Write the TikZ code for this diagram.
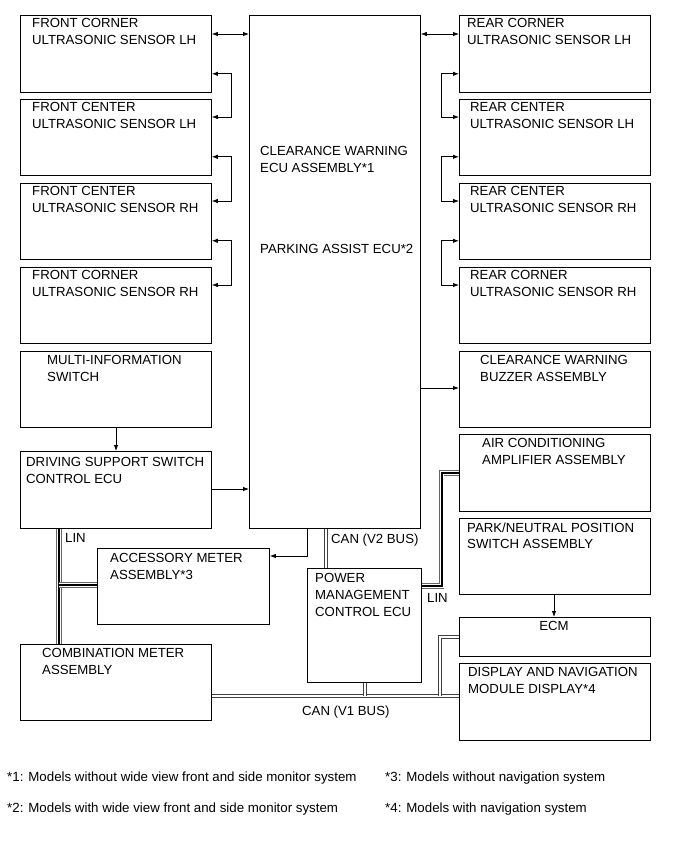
\documentclass[tikz,border=0pt]{standalone}
\usepackage{fontspec}
\setmainfont{Liberation Sans}
\usepackage{tikz}
\usetikzlibrary{arrows.meta,positioning,calc}

\tikzset{
  blk/.style={draw=black, line width=0.8pt, anchor=north west, inner sep=0pt},
  lbl/.style={anchor=north west, inner sep=0pt, align=left, font=\fontsize{13.2}{16.6}\selectfont},
  note/.style={anchor=base west, inner sep=0pt, font=\fontsize{13.3}{15}\selectfont},
  sig/.style={line width=0.8pt, -{Latex[length=6pt,width=4.4pt]}},
  bi/.style={line width=0.8pt, {Latex[length=6pt,width=4.4pt]}-{Latex[length=6pt,width=4.4pt]}},
  canbus/.style={draw=black!75, line width=1.1pt, double=white, double distance=1.8pt},
  linbus/.style={draw=black!60, line width=5.2pt, postaction={draw=white, line width=3.4pt}, postaction={draw=black, line width=2pt}}
}

\begin{document}
\begin{tikzpicture}[x=1pt, y=-1pt]
    \useasboundingbox[fill=white] (0,0) rectangle (691,854);

    % Left column
    \node[blk, minimum width=191pt, minimum height=77pt] (fcl) at (20,15) {};
    \node[blk, minimum width=191pt, minimum height=76pt] (fcnl) at (20,99) {};
    \node[blk, minimum width=191pt, minimum height=76pt] (fcnr) at (20,183) {};
    \node[blk, minimum width=191pt, minimum height=76pt] (fcr) at (20,267) {};
    \node[blk, minimum width=191pt, minimum height=76pt] (mis) at (20,351) {};
    \node[blk, minimum width=191pt, minimum height=77pt] (dss) at (20,451) {};
    \node[blk, minimum width=172pt, minimum height=76pt] (acc) at (97,548) {};
    \node[blk, minimum width=191pt, minimum height=76pt] (cmb) at (20,644) {};

    \node[lbl] (fcl-t) at (32,18.5) {FRONT CORNER\\ULTRASONIC SENSOR LH};
    \node[lbl] (fcnl-t) at (32,102.5) {FRONT CENTER\\ULTRASONIC SENSOR LH};
    \node[lbl] (fcnr-t) at (32,186.5) {FRONT CENTER\\ULTRASONIC SENSOR RH};
    \node[lbl] (fcr-t) at (32,270.5) {FRONT CORNER\\ULTRASONIC SENSOR RH};
    \node[lbl] (mis-t) at (47,355.5) {MULTI-INFORMATION\\SWITCH};
    \node[lbl] (dss-t) at (26,457.5) {DRIVING SUPPORT SWITCH\\CONTROL ECU};
    \node[lbl] (acc-t) at (110,553.5) {ACCESSORY METER\\ASSEMBLY*3};
    \node[lbl] (cmb-t) at (42,648.5) {COMBINATION METER\\ASSEMBLY};

    % Center
    \node[blk, minimum width=171pt, minimum height=513pt] (ecu) at (249,15) {};
    \node[blk, minimum width=114pt, minimum height=114pt] (pmc) at (307,568) {};
    \node[lbl] (ecu-t) at (260,146.5) {CLEARANCE WARNING\\ECU ASSEMBLY*1};
    \node[lbl] (ecu-p) at (260,244.5) {PARKING ASSIST ECU*2};
    \node[lbl] (pmc-t) at (315,573.5) {POWER\\MANAGEMENT\\CONTROL ECU};

    % Right column
    \node[blk, minimum width=191pt, minimum height=77pt] (rcl) at (459,15) {};
    \node[blk, minimum width=191pt, minimum height=76pt] (rcnl) at (459,99) {};
    \node[blk, minimum width=191pt, minimum height=76pt] (rcnr) at (459,183) {};
    \node[blk, minimum width=191pt, minimum height=76pt] (rcr) at (459,267) {};
    \node[blk, minimum width=191pt, minimum height=76pt] (buz) at (459,351) {};
    \node[blk, minimum width=191pt, minimum height=77pt] (air) at (459,434) {};
    \node[blk, minimum width=191pt, minimum height=76pt] (pnp) at (459,518) {};
    \node[blk, minimum width=191pt, minimum height=39pt] (ecm) at (459,617) {};
    \node[blk, minimum width=191pt, minimum height=77pt] (dsp) at (459,663) {};

    \node[lbl] (rcl-t) at (467,18.5) {REAR CORNER\\ULTRASONIC SENSOR LH};
    \node[lbl] (rcnl-t) at (470,102.5) {REAR CENTER\\ULTRASONIC SENSOR LH};
    \node[lbl] (rcnr-t) at (470,186.5) {REAR CENTER\\ULTRASONIC SENSOR RH};
    \node[lbl] (rcr-t) at (470,270.5) {REAR CORNER\\ULTRASONIC SENSOR RH};
    \node[lbl] (buz-t) at (480,355.5) {CLEARANCE WARNING\\BUZZER ASSEMBLY};
    \node[lbl] (air-t) at (482,438.5) {AIR CONDITIONING\\AMPLIFIER ASSEMBLY};
    \node[lbl] (pnp-t) at (467,522.5) {PARK/NEUTRAL POSITION\\SWITCH ASSEMBLY};
    \node[lbl, anchor=north] (ecm-t) at (554,621.5) {ECM};
    \node[lbl] (dsp-t) at (468,667.5) {DISPLAY AND NAVIGATION\\MODULE DISPLAY*4};

    % Sensor lines
    \draw[bi] ([yshift=-19pt]fcl.north east) coordinate (s1) -- (s1 -| ecu.west);
    \draw[bi] ([yshift=-19pt]rcl.north west) coordinate (s2) -- (s2 -| ecu.east);
    \foreach \a/\b in {fcl/fcnl, fcnl/fcnr, fcnr/fcr}
        \draw[bi] ([yshift=19pt]\a.south east) -- ++(20,0) |- ([yshift=-18pt]\b.north east);
    \foreach \a/\b in {rcl/rcnl, rcnl/rcnr, rcnr/rcr}
        \draw[bi] ([yshift=19pt]\a.south west) -- ++(-18,0) |- ([yshift=-18pt]\b.north west);

    % Signal lines
    \draw[sig] (mis.south -| 116,0) -- (dss.north -| 116,0);
    \draw[sig] ([yshift=-38pt]dss.north east) coordinate (s3) -- (s3 -| ecu.west);
    \draw[sig] (ecu.east |- 0,388) -- (buz.west |- 0,388);
    \draw[sig] (ecu.south -| 307,0) |- ([yshift=-8pt]acc.north east);
    \draw[sig] (pnp.south -| 554,0) -- (ecm.north -| 554,0);

    % LIN
    \draw[linbus] (dss.south -| 59,0) -- (cmb.north -| 59,0);
    \draw[linbus] (59,585) coordinate (l1) -- (l1 -| acc.west);
    \draw[linbus] ([yshift=-18pt]pmc.north east) -- ++(20,0) |- ([yshift=-39pt]air.north west);
    \node[lbl] (lin1) at (65,533.5) {LIN};
    \node[lbl] (lin2) at (427,593.5) {LIN};

    % CAN
    \draw[canbus] (ecu.south -| 326,0) -- (pmc.north -| 326,0);
    \draw[canbus] (cmb.east |- 0,696) coordinate (c1) -- (c1 -| dsp.west);
    \draw[canbus] (pmc.south -| 365,0) -- (365,696);
    \draw[canbus] (440,696) |- ([yshift=-20pt]ecm.north west);
    \node[lbl] (can2) at (331,533.5) {CAN (V2 BUS)};
    \node[lbl] (can1) at (302,705.5) {CAN (V1 BUS)};

    % Notes
    \node[note] (n1) at (7,781) {*1: Models without wide view front and side monitor system};
    \node[note] (n2) at (7,812) {*2: Models with wide view front and side monitor system};
    \node[note] (n3) at (385,781) {*3: Models without navigation system};
    \node[note] (n4) at (385,812) {*4: Models with navigation system};
\end{tikzpicture}
\end{document}
